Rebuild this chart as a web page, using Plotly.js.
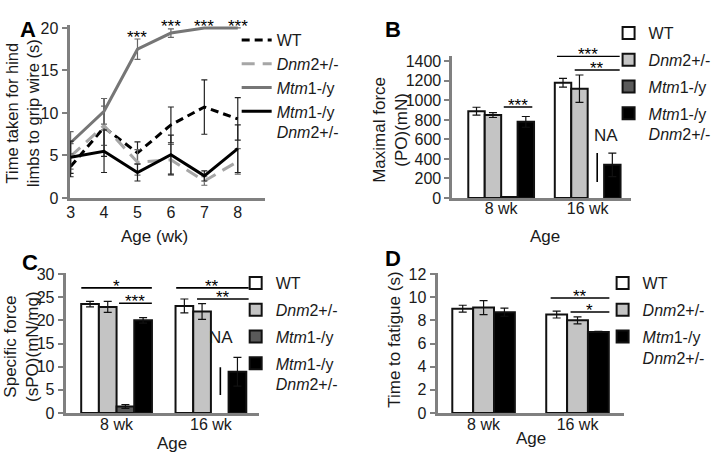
<!DOCTYPE html>
<html><head><meta charset="utf-8">
<script src="https://cdn.plot.ly/plotly-3.0.1.min.js"></script>
<style>html,body{margin:0;padding:0;background:#fff}</style>
</head><body><div id="chart" style="width:716px;height:455px"></div>
<script>
// ---------- Panel A data ----------
const ages = [3, 4, 5, 6, 7, 8];
const aWT = [3.7, 8.3, 5.3, 8.6, 10.7, 9.3];
const aWTerr = [1.2, 3.4, 1.3, 2.1, 3.2, 2.5];
const aDnm2 = [4.9, 8.5, 4.2, 4.5, 2.0, 4.3];
const aDnm2err = [1.5, 2.3, 1.5, 1.8, 0.5, 1.5];
const aMtm1 = [6.5, 10.2, 17.5, 19.4, 20, 20];
const aMtm1err = [1.3, 1.5, 1.2, 0.5, 0, 0];
const aMD = [4.8, 5.5, 3.0, 5.1, 2.6, 5.8];
const aMDerr = [1.9, 2.5, 1.0, 2.3, 0.6, 2.8];
const aStarAges = [5, 6, 7, 8];
const aStarY = [18.8, 20, 20, 20];

// ---------- Panels B, C, D data ----------
const groups = ['8 wk', '16 wk'];
const bWT = [890, 1180], bWTerr = [40, 45];
const bDnm2 = [850, 1120], bDnm2err = [25, 140];
const bMtm1 = [10, null], bMtm1err = [5, null];
const bMD = [780, 340], bMDerr = [55, 120];

const cWT = [23.5, 23.1], cWTerr = [0.6, 1.5];
const cDnm2 = [22.9, 21.9], cDnm2err = [1.2, 1.7];
const cMtm1 = [1.4, null], cMtm1err = [0.4, null];
const cMD = [20.0, 8.9], cMDerr = [0.6, 3.1];

const dWT = [9.0, 8.5], dWTerr = [0.3, 0.3];
const dDnm2 = [9.1, 8.0], dDnm2err = [0.6, 0.3];
const dMD = [8.7, 7.0], dMDerr = [0.35, 0.05];

// significance brackets: [x0, x1, y, stars]
const sigB = [[0.03, 0.36, 932, '***'], [0.645, 1.37, 1452, '***'], [0.85, 1.37, 1311, '**']];
const sigC = [[-0.374, 0.374, 27.0, '*'], [0.026, 0.374, 23.7, '***'], [0.632, 1.4, 27.0, '**'], [0.853, 1.4, 24.6, '**']];
const sigD = [[0.714, 1.339, 9.93, '**'], [0.926, 1.339, 8.72, '*']];
// NA markers: [text x, text y, line x, line y0, line y1]
const naB = [1.207, 645, 1.11, 164, 461];
const naC = [1.105, 16.4, 1.1, 3.9, 9.9];

const legWT = 'WT';
const legDnm2 = '<i>Dnm</i>2+/-';
const legMtm1 = '<i>Mtm</i>1-/y';
const legMD = '<i>Mtm</i>1-/y<br><i>Dnm</i>2+/-';

// ---------- styling ----------
const FONT = 'Liberation Sans, Arial, sans-serif';
const TXT = '#1a1a1a';
const AX = '#808080';
const W = 716, H = 455;
const xd = (a, b) => [a / W, b / W];
const yd = (top, bottom) => [1 - bottom / H, 1 - top / H];

function xAxis(dom, range, extra) {
  return Object.assign({domain: xd(dom[0], dom[1]), range, showline: true, linecolor: AX, linewidth: 3,
    showgrid: false, zeroline: false, ticks: '', tickfont: {family: FONT, size: 16, color: TXT},
    fixedrange: true}, extra || {});
}
function yAxis(dom, range, dtick, anchor) {
  return {domain: yd(dom[0], dom[1]), range, dtick, tick0: 0, anchor, showline: true, linecolor: AX, linewidth: 3,
    showgrid: false, zeroline: false, ticks: 'outside', ticklen: 5, tickwidth: 2, tickcolor: AX,
    tickfont: {family: FONT, size: 16, color: TXT}, fixedrange: true};
}

const traces = [];
function lineTrace(name, y, err, color, dash) {
  traces.push({type: 'scatter', mode: 'lines', x: ages, y, name, xaxis: 'x', yaxis: 'y', legend: 'legend',
    line: {color, width: 3, dash},
    error_y: {type: 'data', array: err, visible: true, color: color === '#000' ? '#222' : '#666', thickness: 1.2, width: 3}});
}
lineTrace(legWT, aWT, aWTerr, '#000', '8px,5px');
lineTrace(legDnm2, aDnm2, aDnm2err, '#a6a6a6', '13px,8px');
lineTrace(legMtm1, aMtm1, aMtm1err, '#767676', 'solid');
lineTrace(legMD, aMD, aMDerr, '#000', 'solid');

const COLS = ['#ffffff', '#c4c4c4', '#5a5a5a', '#000000'];
function barTrace(name, y, err, color, xa, ya, leg, off, w) {
  traces.push({type: 'bar', x: groups, y, name, xaxis: xa, yaxis: ya, legend: leg, legendgroup: leg + name,
    offset: off, width: w,
    marker: {color, line: {color: '#111', width: 2}},
    error_y: {type: 'data', array: err, visible: true, color: '#111', thickness: 1.2, width: 4}});
}
// B
barTrace(legWT, bWT, bWTerr, COLS[0], 'x2', 'y2', 'legend2', -0.38, 0.19);
barTrace(legDnm2, bDnm2, bDnm2err, COLS[1], 'x2', 'y2', 'legend2', -0.19, 0.19);
barTrace(legMtm1, bMtm1, bMtm1err, COLS[2], 'x2', 'y2', 'legend2', 0, 0.19);
barTrace(legMD, bMD, bMDerr, COLS[3], 'x2', 'y2', 'legend2', 0.19, 0.19);
// C
barTrace(legWT, cWT, cWTerr, COLS[0], 'x3', 'y3', 'legend3', -0.375, 0.1875);
barTrace(legDnm2, cDnm2, cDnm2err, COLS[1], 'x3', 'y3', 'legend3', -0.1875, 0.1875);
barTrace(legMtm1, cMtm1, cMtm1err, COLS[2], 'x3', 'y3', 'legend3', 0, 0.1875);
barTrace(legMD, cMD, cMDerr, COLS[3], 'x3', 'y3', 'legend3', 0.1875, 0.1875);
// D
barTrace(legWT, dWT, dWTerr, COLS[0], 'x4', 'y4', 'legend4', -0.333, 0.222);
barTrace(legDnm2, dDnm2, dDnm2err, COLS[1], 'x4', 'y4', 'legend4', -0.111, 0.222);
barTrace(legMD, dMD, dMDerr, COLS[3], 'x4', 'y4', 'legend4', 0.111, 0.222);

const shapes = [];
const annotations = [];
function addSig(list, xa, ya) {
  list.forEach(([x0, x1, y, t]) => {
    shapes.push({type: 'line', xref: xa, yref: ya, x0, x1, y0: y, y1: y, line: {color: '#000', width: 1.6}});
    annotations.push({xref: xa, yref: ya, x: (x0 + x1) / 2, y, text: t, showarrow: false, yanchor: 'middle',
      height: 12, yshift: 2, font: {family: FONT, size: 17, color: '#000'}});
  });
}
addSig(sigB, 'x2', 'y2');
addSig(sigC, 'x3', 'y3');
addSig(sigD, 'x4', 'y4');
function addNA(na, xa, ya) {
  annotations.push({xref: xa, yref: ya, x: na[0], y: na[1], text: 'NA', showarrow: false, font: {family: FONT, size: 17, color: TXT}});
  shapes.push({type: 'line', xref: xa, yref: ya, x0: na[2], x1: na[2], y0: na[3], y1: na[4], line: {color: '#000', width: 1.6}});
}
addNA(naB, 'x2', 'y2');
addNA(naC, 'x3', 'y3');
aStarAges.forEach((a, i) => annotations.push({xref: 'x', yref: 'y', x: a, y: aStarY[i], text: '***', showarrow: false,
  yshift: 1, font: {family: FONT, size: 17, color: '#000'}}));
// panel letters
[['A', 18, 15], ['B', 395, 15], ['C', 20, 262], ['D', 395, 258]].forEach(([t, px, py]) =>
  annotations.push({xref: 'paper', yref: 'paper', x: px / W, y: 1 - py / H, text: '<b>' + t + '</b>', showarrow: false,
    font: {family: FONT, size: 22, color: '#000'}}));
// axis titles (placed in page pixels)
[['Time taken for hind<br>limbs to grip wire (s)', 22, 113, -90, 16.5],
 ['Age (wk)', 155, 236, 0, 17],
 ['Maximal force<br>(PO)(mN)', 392, 130, -90, 17],
 ['Age', 548, 236, 0, 17],
 ['Specific force<br>(sPO)(mN/mg)', 21, 347, -90, 17],
 ['Age', 173, 443, 0, 17],
 ['Time to fatigue (s)', 396, 340, -90, 17],
 ['Age', 534, 438, 0, 17]].forEach(([t, px, py, ang, fs]) =>
  annotations.push({xref: 'paper', yref: 'paper', x: px / W, y: 1 - py / H, text: t, textangle: ang, showarrow: false,
    xanchor: 'center', yanchor: 'middle', font: {family: FONT, size: fs, color: TXT}}));

const legBase = {xanchor: 'left', yanchor: 'top', bgcolor: 'rgba(0,0,0,0)', valign: 'top', tracegroupgap: 3,
  font: {family: FONT, size: 16, color: TXT}, traceorder: 'grouped'};

const layout = {
  width: W, height: H, margin: {l: 0, r: 0, t: 0, b: 0}, paper_bgcolor: '#fff', plot_bgcolor: 'rgba(0,0,0,0)',
  barmode: 'overlay', showlegend: true,
  xaxis: xAxis([70, 266], [2.97, 8.8], {anchor: 'y', tickvals: ages, ticklabelstandoff: -2}),
  yaxis: yAxis([25.4, 198], [0, 20.3], 5, 'x'),
  xaxis2: xAxis([455, 635], [-0.563, 1.506], {anchor: 'y2', type: 'category', categoryarray: groups, ticklabelstandoff: -6}),
  yaxis2: yAxis([55.5, 198], [0, 1460], 200, 'x2'),
  xaxis3: xAxis([66, 260], [-0.54, 1.505], {anchor: 'y3', type: 'category', categoryarray: groups, ticklabelstandoff: -5}),
  yaxis3: yAxis([272.6, 413], [0, 30.3], 5, 'x3'),
  xaxis4: xAxis([440, 628], [-0.49, 1.5], {anchor: 'y4', type: 'category', categoryarray: groups, ticklabelstandoff: -5}),
  yaxis4: yAxis([272.6, 413], [0, 12.12], 2, 'x4'),
  legend: Object.assign({}, legBase, {x: 238 / W, y: 1 - 23 / H, traceorder: 'normal', tracegroupgap: 0}),
  legend2: Object.assign({}, legBase, {x: 612 / W, y: 1 - 16 / H}),
  legend3: Object.assign({}, legBase, {x: 237 / W, y: 1 - 266 / H}),
  legend4: Object.assign({}, legBase, {x: 606 / W, y: 1 - 266 / H}),
  shapes, annotations
};

Plotly.newPlot('chart', traces, layout, {staticPlot: true, displayModeBar: false});
</script>
</body></html>
